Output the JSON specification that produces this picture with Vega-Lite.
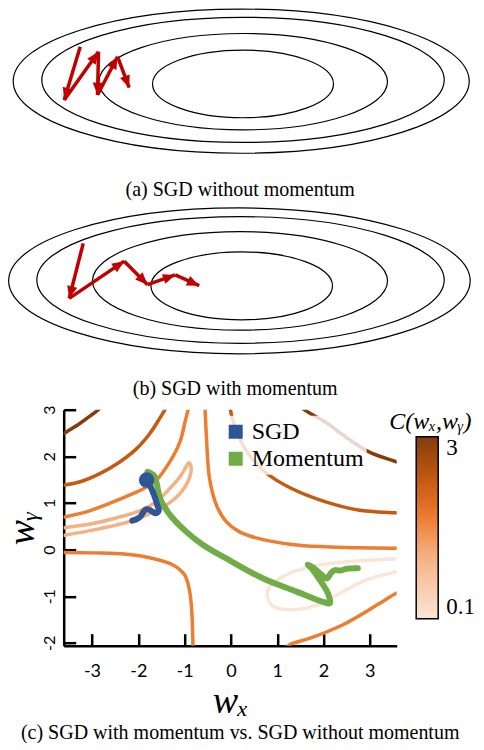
{
  "$schema": "https://vega.github.io/schema/vega-lite/v6.json",
  "background": "white",
  "padding": {"left": 3.7, "top": 6.7, "right": 0, "bottom": 0},
  "bounds": "flush",
  "spacing": 39.5,
  "config": {
    "view": {"stroke": null},
    "title": {"font": "Liberation Serif", "fontSize": 20, "fontWeight": "normal", "color": "black", "orient": "bottom", "anchor": "middle"}
  },
  "datasets": {
    "ellA": [
      {"ring": "E1", "cx": 0.0, "cy": 0.011, "a": 4.957},
      {"ring": "E2", "cx": 0.039, "cy": 0.039, "a": 4.374},
      {"ring": "E3", "cx": 0.043, "cy": 0.0, "a": 3.137},
      {"ring": "E4", "cx": 0.039, "cy": -0.048, "a": 1.967}
    ],
    "ellB": [
      {"ring": "E1", "cx": -0.039, "cy": 0.007, "a": 5.017},
      {"ring": "E2", "cx": -0.015, "cy": 0.026, "a": 4.428},
      {"ring": "E3", "cx": -0.026, "cy": 0.007, "a": 3.207},
      {"ring": "E4", "cx": 0.011, "cy": -0.102, "a": 1.974}
    ],
    "arrA": [
      {"x": -3.50, "y": 0.761, "x2": -3.848, "y2": -0.398},
      {"x": -3.848, "y": -0.398, "x2": -3.102, "y2": 0.652},
      {"x": -3.102, "y": 0.652, "x2": -3.124, "y2": -0.289},
      {"x": -3.124, "y": -0.289, "x2": -2.689, "y2": 0.543},
      {"x": -2.689, "y": 0.543, "x2": -2.435, "y2": -0.130}
    ],
    "arrB": [
      {"x": -3.435, "y": 0.822, "x2": -3.739, "y2": -0.373},
      {"x": -3.739, "y": -0.373, "x2": -2.543, "y2": 0.435},
      {"x": -2.543, "y": 0.435, "x2": -2.037, "y2": -0.076},
      {"x": -2.037, "y": -0.076, "x2": -1.435, "y2": 0.135},
      {"x": -1.435, "y": 0.135, "x2": -0.913, "y2": -0.098}
    ],
    "contours": [
      {"c": "D1", "level": 3, "i": 0, "x": -3.72, "y": 2.41},
      {"c": "D1", "level": 3, "i": 1, "x": -3.59, "y": 2.50},
      {"c": "D1", "level": 3, "i": 2, "x": -3.27, "y": 2.70},
      {"c": "D1", "level": 3, "i": 3, "x": -3.06, "y": 2.85},
      {"c": "D1", "level": 3, "i": 4, "x": -2.84, "y": 3.02},
      {"c": "D1", "level": 3, "i": 5, "x": -2.76, "y": 3.12},
      {"c": "D2", "level": 2.3, "i": 0, "x": -3.72, "y": 1.36},
      {"c": "D2", "level": 2.3, "i": 1, "x": -3.63, "y": 1.38},
      {"c": "D2", "level": 2.3, "i": 2, "x": -3.27, "y": 1.45},
      {"c": "D2", "level": 2.3, "i": 3, "x": -2.83, "y": 1.63},
      {"c": "D2", "level": 2.3, "i": 4, "x": -2.40, "y": 1.88},
      {"c": "D2", "level": 2.3, "i": 5, "x": -2.04, "y": 2.16},
      {"c": "D2", "level": 2.3, "i": 6, "x": -1.75, "y": 2.49},
      {"c": "D2", "level": 2.3, "i": 7, "x": -1.54, "y": 2.81},
      {"c": "D2", "level": 2.3, "i": 8, "x": -1.39, "y": 3.06},
      {"c": "D2", "level": 2.3, "i": 9, "x": -1.36, "y": 3.14},
      {"c": "O1", "level": 1.7, "i": 0, "x": -3.72, "y": 0.67},
      {"c": "O1", "level": 1.7, "i": 1, "x": -3.59, "y": 0.70},
      {"c": "O1", "level": 1.7, "i": 2, "x": -3.12, "y": 0.81},
      {"c": "O1", "level": 1.7, "i": 3, "x": -2.62, "y": 0.99},
      {"c": "O1", "level": 1.7, "i": 4, "x": -2.19, "y": 1.17},
      {"c": "O1", "level": 1.7, "i": 5, "x": -1.90, "y": 1.30},
      {"c": "O1", "level": 1.7, "i": 6, "x": -1.61, "y": 1.49},
      {"c": "O1", "level": 1.7, "i": 7, "x": -1.32, "y": 1.88},
      {"c": "O1", "level": 1.7, "i": 8, "x": -1.10, "y": 2.31},
      {"c": "O1", "level": 1.7, "i": 9, "x": -0.99, "y": 2.74},
      {"c": "O1", "level": 1.7, "i": 10, "x": -0.92, "y": 3.02},
      {"c": "O1", "level": 1.7, "i": 11, "x": -0.91, "y": 3.12},
      {"c": "L1", "level": 1.1, "i": 0, "x": -3.72, "y": 0.45},
      {"c": "L1", "level": 1.1, "i": 1, "x": -3.59, "y": 0.47},
      {"c": "L1", "level": 1.1, "i": 2, "x": -2.98, "y": 0.56},
      {"c": "L1", "level": 1.1, "i": 3, "x": -2.40, "y": 0.70},
      {"c": "L1", "level": 1.1, "i": 4, "x": -1.97, "y": 0.83},
      {"c": "L1", "level": 1.1, "i": 5, "x": -1.61, "y": 1.03},
      {"c": "L1", "level": 1.1, "i": 6, "x": -1.32, "y": 1.31},
      {"c": "L1", "level": 1.1, "i": 7, "x": -1.10, "y": 1.56},
      {"c": "L1", "level": 1.1, "i": 8, "x": -0.97, "y": 1.77},
      {"c": "L1", "level": 1.1, "i": 9, "x": -0.91, "y": 1.86},
      {"c": "L1", "level": 1.1, "i": 10, "x": -0.86, "y": 1.77},
      {"c": "L1", "level": 1.1, "i": 11, "x": -0.90, "y": 1.52},
      {"c": "L1", "level": 1.1, "i": 12, "x": -1.10, "y": 1.20},
      {"c": "L1", "level": 1.1, "i": 13, "x": -1.39, "y": 0.96},
      {"c": "L1", "level": 1.1, "i": 14, "x": -1.82, "y": 0.74},
      {"c": "L1", "level": 1.1, "i": 15, "x": -2.26, "y": 0.58},
      {"c": "L1", "level": 1.1, "i": 16, "x": -2.83, "y": 0.45},
      {"c": "L1", "level": 1.1, "i": 17, "x": -3.59, "y": 0.31},
      {"c": "L1", "level": 1.1, "i": 18, "x": -3.72, "y": 0.29},
      {"c": "O2", "level": 1.7, "i": 0, "x": -3.72, "y": -0.06},
      {"c": "O2", "level": 1.7, "i": 1, "x": -3.59, "y": -0.06},
      {"c": "O2", "level": 1.7, "i": 2, "x": -2.98, "y": -0.07},
      {"c": "O2", "level": 1.7, "i": 3, "x": -2.26, "y": -0.10},
      {"c": "O2", "level": 1.7, "i": 4, "x": -1.68, "y": -0.19},
      {"c": "O2", "level": 1.7, "i": 5, "x": -1.25, "y": -0.33},
      {"c": "O2", "level": 1.7, "i": 6, "x": -1.00, "y": -0.54},
      {"c": "O2", "level": 1.7, "i": 7, "x": -0.89, "y": -0.90},
      {"c": "O2", "level": 1.7, "i": 8, "x": -0.84, "y": -1.40},
      {"c": "O2", "level": 1.7, "i": 9, "x": -0.82, "y": -2.04},
      {"c": "O2", "level": 1.7, "i": 10, "x": -0.82, "y": -2.20},
      {"c": "O3", "level": 1.7, "i": 0, "x": -0.57, "y": 3.20},
      {"c": "O3", "level": 1.7, "i": 1, "x": -0.56, "y": 3.06},
      {"c": "O3", "level": 1.7, "i": 2, "x": -0.53, "y": 2.45},
      {"c": "O3", "level": 1.7, "i": 3, "x": -0.46, "y": 1.52},
      {"c": "O3", "level": 1.7, "i": 4, "x": -0.31, "y": 0.95},
      {"c": "O3", "level": 1.7, "i": 5, "x": -0.10, "y": 0.60},
      {"c": "O3", "level": 1.7, "i": 6, "x": 0.19, "y": 0.38},
      {"c": "O3", "level": 1.7, "i": 7, "x": 0.59, "y": 0.24},
      {"c": "O3", "level": 1.7, "i": 8, "x": 1.31, "y": 0.11},
      {"c": "O3", "level": 1.7, "i": 9, "x": 2.03, "y": 0.06},
      {"c": "O3", "level": 1.7, "i": 10, "x": 2.75, "y": 0.04},
      {"c": "O3", "level": 1.7, "i": 11, "x": 3.54, "y": 0.03},
      {"c": "O3", "level": 1.7, "i": 12, "x": 3.72, "y": 0.03},
      {"c": "TR2", "level": 2.3, "i": 0, "x": -0.03, "y": 3.20},
      {"c": "TR2", "level": 2.3, "i": 1, "x": -0.02, "y": 3.06},
      {"c": "TR2", "level": 2.3, "i": 2, "x": 0.05, "y": 2.74},
      {"c": "TR2", "level": 2.3, "i": 3, "x": 0.30, "y": 2.17},
      {"c": "TR2", "level": 2.3, "i": 4, "x": 0.73, "y": 1.67},
      {"c": "TR2", "level": 2.3, "i": 5, "x": 1.31, "y": 1.31},
      {"c": "TR2", "level": 2.3, "i": 6, "x": 2.03, "y": 1.03},
      {"c": "TR2", "level": 2.3, "i": 7, "x": 2.75, "y": 0.85},
      {"c": "TR2", "level": 2.3, "i": 8, "x": 3.54, "y": 0.79},
      {"c": "TR2", "level": 2.3, "i": 9, "x": 3.72, "y": 0.78},
      {"c": "TR1", "level": 3, "i": 0, "x": 1.48, "y": 3.15},
      {"c": "TR1", "level": 3, "i": 1, "x": 1.55, "y": 3.03},
      {"c": "TR1", "level": 3, "i": 2, "x": 2.03, "y": 2.74},
      {"c": "TR1", "level": 3, "i": 3, "x": 2.53, "y": 2.38},
      {"c": "TR1", "level": 3, "i": 4, "x": 2.97, "y": 2.10},
      {"c": "TR1", "level": 3, "i": 5, "x": 3.52, "y": 1.90},
      {"c": "TR1", "level": 3, "i": 6, "x": 3.72, "y": 1.84},
      {"c": "L2", "level": 0.1, "i": 0, "x": 3.72, "y": -0.19},
      {"c": "L2", "level": 0.1, "i": 1, "x": 3.51, "y": -0.20},
      {"c": "L2", "level": 0.1, "i": 2, "x": 2.42, "y": -0.27},
      {"c": "L2", "level": 0.1, "i": 3, "x": 1.71, "y": -0.37},
      {"c": "L2", "level": 0.1, "i": 4, "x": 1.20, "y": -0.54},
      {"c": "L2", "level": 0.1, "i": 5, "x": 0.84, "y": -0.79},
      {"c": "L2", "level": 0.1, "i": 6, "x": 0.79, "y": -1.02},
      {"c": "L2", "level": 0.1, "i": 7, "x": 0.92, "y": -1.22},
      {"c": "L2", "level": 0.1, "i": 8, "x": 1.30, "y": -1.29},
      {"c": "L2", "level": 0.1, "i": 9, "x": 1.85, "y": -1.19},
      {"c": "L2", "level": 0.1, "i": 10, "x": 2.42, "y": -0.90},
      {"c": "L2", "level": 0.1, "i": 11, "x": 2.93, "y": -0.65},
      {"c": "L2", "level": 0.1, "i": 12, "x": 3.51, "y": -0.49},
      {"c": "L2", "level": 0.1, "i": 13, "x": 3.72, "y": -0.45},
      {"c": "O5", "level": 1.7, "i": 0, "x": 1.10, "y": -2.20},
      {"c": "O5", "level": 1.7, "i": 1, "x": 1.27, "y": -2.04},
      {"c": "O5", "level": 1.7, "i": 2, "x": 1.71, "y": -1.90},
      {"c": "O5", "level": 1.7, "i": 3, "x": 2.42, "y": -1.61},
      {"c": "O5", "level": 1.7, "i": 4, "x": 3.15, "y": -1.19},
      {"c": "O5", "level": 1.7, "i": 5, "x": 3.51, "y": -0.97},
      {"c": "O5", "level": 1.7, "i": 6, "x": 3.72, "y": -0.86}
    ],
    "paths": [
      {"method": "Momentum", "i": 0, "x": -1.80, "y": 1.67},
      {"method": "Momentum", "i": 1, "x": -1.66, "y": 1.59},
      {"method": "Momentum", "i": 2, "x": -1.60, "y": 1.41},
      {"method": "Momentum", "i": 3, "x": -1.53, "y": 1.10},
      {"method": "Momentum", "i": 4, "x": -1.32, "y": 0.75},
      {"method": "Momentum", "i": 5, "x": -0.96, "y": 0.38},
      {"method": "Momentum", "i": 6, "x": -0.60, "y": 0.10},
      {"method": "Momentum", "i": 7, "x": -0.10, "y": -0.19},
      {"method": "Momentum", "i": 8, "x": 0.70, "y": -0.62},
      {"method": "Momentum", "i": 9, "x": 1.42, "y": -0.90},
      {"method": "Momentum", "i": 10, "x": 1.99, "y": -1.12},
      {"method": "Momentum", "i": 11, "x": 2.14, "y": -1.15},
      {"method": "Momentum", "i": 12, "x": 2.10, "y": -0.95},
      {"method": "Momentum", "i": 13, "x": 1.92, "y": -0.65},
      {"method": "Momentum", "i": 14, "x": 1.74, "y": -0.40},
      {"method": "Momentum", "i": 15, "x": 1.66, "y": -0.32},
      {"method": "Momentum", "i": 16, "x": 1.78, "y": -0.39},
      {"method": "Momentum", "i": 17, "x": 1.96, "y": -0.54},
      {"method": "Momentum", "i": 18, "x": 2.07, "y": -0.62},
      {"method": "Momentum", "i": 19, "x": 2.17, "y": -0.49},
      {"method": "Momentum", "i": 20, "x": 2.25, "y": -0.44},
      {"method": "Momentum", "i": 21, "x": 2.36, "y": -0.45},
      {"method": "Momentum", "i": 22, "x": 2.50, "y": -0.41},
      {"method": "Momentum", "i": 23, "x": 2.74, "y": -0.40},
      {"method": "SGD", "i": 0, "x": -1.82, "y": 1.49},
      {"method": "SGD", "i": 1, "x": -1.75, "y": 1.38},
      {"method": "SGD", "i": 2, "x": -1.66, "y": 1.17},
      {"method": "SGD", "i": 3, "x": -1.59, "y": 0.96},
      {"method": "SGD", "i": 4, "x": -1.56, "y": 0.83},
      {"method": "SGD", "i": 5, "x": -1.64, "y": 0.78},
      {"method": "SGD", "i": 6, "x": -1.75, "y": 0.85},
      {"method": "SGD", "i": 7, "x": -1.84, "y": 0.86},
      {"method": "SGD", "i": 8, "x": -1.90, "y": 0.79},
      {"method": "SGD", "i": 9, "x": -1.96, "y": 0.70},
      {"method": "SGD", "i": 10, "x": -2.04, "y": 0.65},
      {"method": "SGD", "i": 11, "x": -2.13, "y": 0.62}
    ]
  },
  "vconcat": [
    {
      "width": 333,
      "height": 160,
      "title": {"text": "(a) SGD without momentum", "offset": 9, "dx": 10},
      "layer": [
        {
          "data": {"name": "ellA"},
          "mark": {"type": "point", "filled": false, "stroke": "black", "strokeWidth": 1.2, "opacity": 1},
          "encoding": {
            "x": {"field": "cx", "type": "quantitative", "scale": {"domain": [-3.859, 3.38], "nice": false, "zero": false}, "axis": null},
            "y": {"field": "cy", "type": "quantitative", "scale": {"domain": [-1.935, 1.543], "nice": false, "zero": false}, "axis": null},
            "size": {"field": "a", "type": "quantitative", "scale": {"type": "pow", "exponent": 2, "domain": [0, 5], "range": [0, 211600]}, "legend": null},
            "shape": {"field": "ring", "type": "nominal", "legend": null, "scale": {"domain": ["E1", "E2", "E3", "E4"], "range": [
              "M-1,0C-1,-0.1745,-0.5523,-0.316,0,-0.316C0.5523,-0.316,1,-0.1745,1,0C1,0.1745,0.5523,0.316,0,0.316C-0.5523,0.316,-1,0.1745,-1,0Z",
              "M-1,0C-1,-0.1718,-0.5523,-0.311,0,-0.311C0.5523,-0.311,1,-0.1718,1,0C1,0.1718,0.5523,0.311,0,0.311C-0.5523,0.311,-1,0.1718,-1,0Z",
              "M-1,0C-1,-0.1845,-0.5523,-0.334,0,-0.334C0.5523,-0.334,1,-0.1845,1,0C1,0.1845,0.5523,0.334,0,0.334C-0.5523,0.334,-1,0.1845,-1,0Z",
              "M-1,0C-1,-0.2066,-0.5523,-0.374,0,-0.374C0.5523,-0.374,1,-0.2066,1,0C1,0.2066,0.5523,0.374,0,0.374C-0.5523,0.374,-1,0.2066,-1,0Z"
            ]}}
          }
        },
        {
          "data": {"name": "arrA"},
          "mark": {"type": "rule", "color": "#C00000", "strokeWidth": 3.5},
          "encoding": {
            "x": {"field": "x", "type": "quantitative"},
            "y": {"field": "y", "type": "quantitative"},
            "x2": {"field": "x2"},
            "y2": {"field": "y2"}
          }
        },
        {
          "data": {"name": "arrA"},
          "transform": [{"calculate": "atan2(datum.x2 - datum.x, datum.y2 - datum.y) * 180 / PI", "as": "dir"}],
          "mark": {"type": "point", "shape": "M0,0L0.42,1L-0.42,1Z", "filled": true, "color": "#C00000", "size": 600, "opacity": 1},
          "encoding": {
            "x": {"field": "x2", "type": "quantitative"},
            "y": {"field": "y2", "type": "quantitative"},
            "angle": {"field": "dir", "type": "quantitative", "scale": null}
          }
        }
      ]
    },
    {
      "width": 333,
      "height": 160,
      "title": {"text": "(b) SGD with momentum", "offset": 9, "dx": 5},
      "layer": [
        {
          "data": {"name": "ellB"},
          "mark": {"type": "point", "filled": false, "stroke": "black", "strokeWidth": 1.2, "opacity": 1},
          "encoding": {
            "x": {"field": "cx", "type": "quantitative", "scale": {"domain": [-3.859, 3.38], "nice": false, "zero": false}, "axis": null},
            "y": {"field": "cy", "type": "quantitative", "scale": {"domain": [-1.935, 1.543], "nice": false, "zero": false}, "axis": null},
            "size": {"field": "a", "type": "quantitative", "scale": {"type": "pow", "exponent": 2, "domain": [0, 5], "range": [0, 211600]}, "legend": null},
            "shape": {"field": "ring", "type": "nominal", "legend": null, "scale": {"domain": ["E1", "E2", "E3", "E4"], "range": [
              "M-1,0C-1,-0.1734,-0.5523,-0.314,0,-0.314C0.5523,-0.314,1,-0.1734,1,0C1,0.1734,0.5523,0.314,0,0.314C-0.5523,0.314,-1,0.1734,-1,0Z",
              "M-1,0C-1,-0.1718,-0.5523,-0.311,0,-0.311C0.5523,-0.311,1,-0.1718,1,0C1,0.1718,0.5523,0.311,0,0.311C-0.5523,0.311,-1,0.1718,-1,0Z",
              "M-1,0C-1,-0.1840,-0.5523,-0.333,0,-0.333C0.5523,-0.333,1,-0.1840,1,0C1,0.1840,0.5523,0.333,0,0.333C-0.5523,0.333,-1,0.1840,-1,0Z",
              "M-1,0C-1,-0.2077,-0.5523,-0.376,0,-0.376C0.5523,-0.376,1,-0.2077,1,0C1,0.2077,0.5523,0.376,0,0.376C-0.5523,0.376,-1,0.2077,-1,0Z"
            ]}}
          }
        },
        {
          "data": {"name": "arrB"},
          "mark": {"type": "rule", "color": "#C00000", "strokeWidth": 3.5},
          "encoding": {
            "x": {"field": "x", "type": "quantitative"},
            "y": {"field": "y", "type": "quantitative"},
            "x2": {"field": "x2"},
            "y2": {"field": "y2"}
          }
        },
        {
          "data": {"name": "arrB"},
          "transform": [{"calculate": "atan2(datum.x2 - datum.x, datum.y2 - datum.y) * 180 / PI", "as": "dir"}],
          "mark": {"type": "point", "shape": "M0,0L0.42,1L-0.42,1Z", "filled": true, "color": "#C00000", "size": 600, "opacity": 1},
          "encoding": {
            "x": {"field": "x2", "type": "quantitative"},
            "y": {"field": "y2", "type": "quantitative"},
            "angle": {"field": "dir", "type": "quantitative", "scale": null}
          }
        }
      ]
    },
    {
      "width": 333,
      "height": 236,
      "title": {"text": "(c) SGD with momentum vs. SGD without momentum", "offset": 2, "dx": 10},
      "layer": [
        {
          "data": {"name": "contours"},
          "mark": {"type": "line", "strokeWidth": 3.5, "clip": true, "interpolate": "catmull-rom", "strokeCap": "round"},
          "encoding": {
            "x": {"field": "x", "type": "quantitative",
              "scale": {"domain": [-3.61, 3.58], "nice": false, "zero": false},
              "axis": {"values": [-3, -2, -1, 0, 1, 2, 3], "labelExpr": "'' + datum.value", "grid": false,
                "tickSize": -12, "tickWidth": 2.5, "tickColor": "black", "domainColor": "black", "domainWidth": 2.5,
                "labelFont": "Lato", "labelFontSize": 18, "labelColor": "black", "labelPadding": 29, "labelFlush": false, "labelOverlap": false,
                "title": "wₓ", "titleFont": "Liberation Serif", "titleFontStyle": "italic", "titleFontWeight": "normal", "titleFontSize": 38, "titleColor": "black", "titlePadding": 2}},
            "y": {"field": "y", "type": "quantitative",
              "scale": {"domain": [-2.06, 3.0], "nice": false, "zero": false},
              "axis": {"values": [-2, -1, 0, 1, 2, 3], "labelExpr": "'' + datum.value", "grid": false,
                "tickSize": -12, "tickWidth": 2.5, "tickColor": "black", "domainColor": "black", "domainWidth": 2.5,
                "labelFont": "Lato", "labelFontSize": 16, "labelColor": "black", "labelPadding": 21, "labelAngle": -90, "labelAlign": "center", "labelBaseline": "alphabetic", "labelFlush": false, "labelOverlap": false,
                "title": "wᵧ", "titleFont": "Liberation Serif", "titleFontStyle": "italic", "titleFontWeight": "normal", "titleFontSize": 38, "titleColor": "black", "titlePadding": 0}},
            "detail": {"field": "c", "type": "nominal"},
            "order": {"field": "i", "type": "quantitative"},
            "color": {"field": "level", "type": "quantitative",
              "scale": {"domain": [0.1, 0.6, 1.1, 1.7, 2.3, 3], "range": ["#FBE5D6", "#F8CBAD", "#F4B183", "#ED7D31", "#C55A11", "#843C0C"]},
              "legend": {"orient": "none", "legendX": 325.5, "legendY": 0, "direction": "vertical", "padding": 0,
                "title": "C(wₓ,wᵧ)", "titleFont": "Liberation Serif", "titleFontStyle": "italic", "titleFontWeight": "normal", "titleFontSize": 24, "titleColor": "black", "titlePadding": 3,
                "gradientLength": 182, "gradientThickness": 22, "gradientStrokeColor": "black", "gradientStrokeWidth": 1.5,
                "values": [0.1, 3], "format": "~g", "labelFont": "Liberation Serif", "labelFontSize": 23, "labelColor": "black", "labelOffset": 8,
                "encode": {"title": {"update": {"dx": {"value": -27}}}}}}
          }
        },
        {
          "data": {"name": "paths"},
          "mark": {"type": "line", "strokeWidth": 6, "strokeCap": "round", "strokeJoin": "round", "interpolate": "catmull-rom"},
          "encoding": {
            "x": {"field": "x", "type": "quantitative"},
            "y": {"field": "y", "type": "quantitative"},
            "order": {"field": "i", "type": "quantitative"},
            "color": {"field": "method", "type": "nominal",
              "scale": {"domain": ["SGD", "Momentum"], "range": ["#2F5597", "#70AD47"]},
              "legend": {"orient": "none", "legendX": 157, "legendY": 6, "title": null, "symbolType": "square", "symbolSize": 49, "symbolStrokeWidth": 7, "symbolOpacity": 1,
                "labelFont": "Liberation Serif", "labelFontSize": 24, "labelColor": "black", "labelOffset": 4, "rowPadding": 1, "clipHeight": 26,
                "fillColor": "rgba(255,255,255,0.8)", "padding": 3}}
          }
        },
        {
          "data": {"name": "paths"},
          "transform": [{"filter": "datum.method === 'SGD' && datum.i === 0"}],
          "mark": {"type": "point", "filled": true, "color": "#2F5597", "size": 240, "opacity": 1},
          "encoding": {
            "x": {"field": "x", "type": "quantitative"},
            "y": {"field": "y", "type": "quantitative"}
          }
        }
      ],
      "resolve": {"scale": {"color": "independent"}, "legend": {"color": "independent"}}
    }
  ]
}
